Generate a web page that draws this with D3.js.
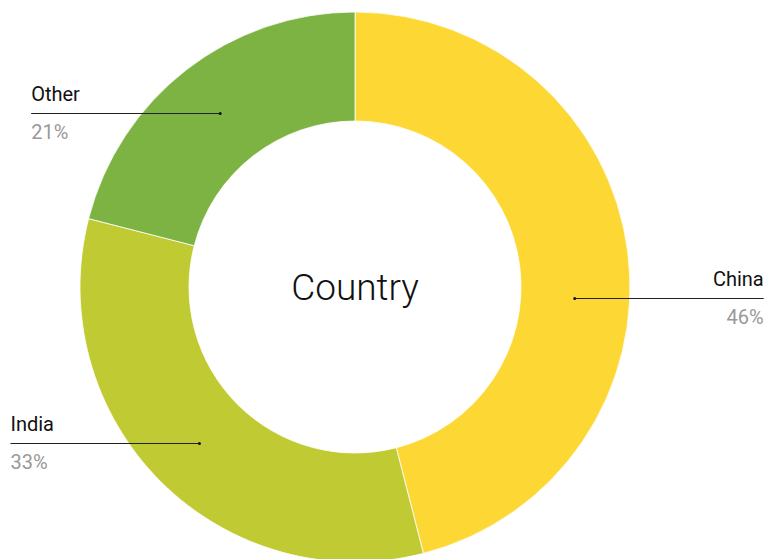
<!DOCTYPE html>
<html>
<head>
<meta charset="utf-8">
<script src="https://cdn.jsdelivr.net/npm/d3@7"></script>
<style>
  body { margin: 0; background: #fff; }
  text { font-family: Roboto, "Open Sans", sans-serif; }
</style>
</head>
<body>
<svg id="chart" width="779" height="559"></svg>
<script>
var countries = ["China", "India", "Other"];
var shares = [46, 33, 21];
var colors = ["#FDD835", "#C0CA33", "#7CB342"];
var centerTitle = "Country";

var width = 779,
  height = 559;
var cx = 355,
  cy = 287,
  outerR = 275,
  innerR = 166,
  labelR = 220,
  lineLen = 189;

var data = countries.map(function (c, i) {
  return { name: c, value: shares[i], color: colors[i] };
});

var svg = d3.select("#chart");
var g = svg.append("g").attr("transform", "translate(" + cx + "," + cy + ")");

var pie = d3
  .pie()
  .sort(null)
  .value(function (d) {
    return d.value;
  });

var arc = d3.arc().innerRadius(innerR).outerRadius(outerR);

var arcs = pie(data);

g.selectAll(".slice")
  .data(arcs)
  .enter()
  .append("path")
  .attr("class", "slice")
  .attr("d", arc)
  .attr("fill", function (d) {
    return d.data.color;
  })
  .attr("stroke", "#fff")
  .attr("stroke-width", 0.8);

g.append("text")
  .attr("text-anchor", "middle")
  .attr("y", 13)
  .attr("font-size", 37)
  .attr("font-weight", 300)
  .attr("fill", "#111")
  .text(centerTitle);

// label anchor sits on the ring's middle; first label is nudged down a bit
var labelAngle = function (d, i) {
  var a = (d.startAngle + d.endAngle) / 2;
  return i === 0 ? a + 0.176 : a;
};

var labels = g
  .selectAll(".label")
  .data(arcs)
  .enter()
  .append("g")
  .attr("class", "label")
  .each(function (d, i) {
    var a = labelAngle(d, i);
    var x = labelR * Math.sin(a),
      y = -labelR * Math.cos(a);
    var right = x > 0;
    var x2 = right ? x + lineLen : x - lineLen;
    var sel = d3.select(this);
    y = Math.round(y) + 0.5;

    sel
      .append("line")
      .attr("x1", x)
      .attr("x2", x2)
      .attr("y1", y)
      .attr("y2", y)
      .attr("stroke", "#222")
      .attr("stroke-width", 1);

    sel
      .append("circle")
      .attr("cx", x)
      .attr("cy", y)
      .attr("r", 1.5)
      .attr("fill", "#111");

    sel
      .append("text")
      .attr("x", x2)
      .attr("y", y - 13)
      .attr("text-anchor", right ? "end" : "start")
      .attr("font-size", 20)
      .attr("fill", "#111")
      .text(d.data.name);

    sel
      .append("text")
      .attr("x", x2)
      .attr("y", y + 25)
      .attr("text-anchor", right ? "end" : "start")
      .attr("font-size", 20)
      .attr("fill", "#999")
      .text(d.data.value + "%");
  });
</script>
</body>
</html>
